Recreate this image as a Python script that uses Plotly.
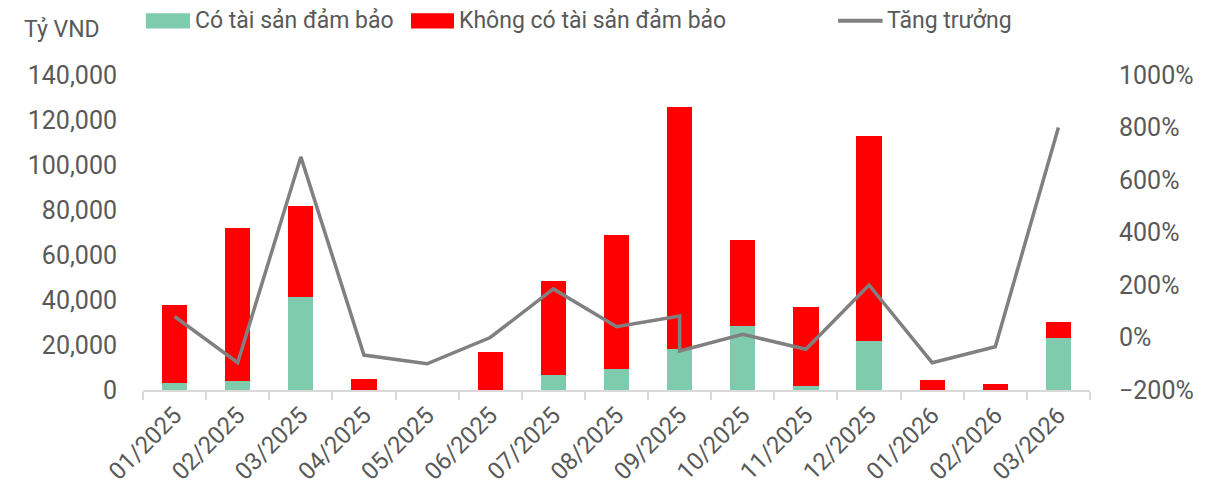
import plotly.graph_objects as go

months = ['01/2025', '02/2025', '03/2025', '04/2025', '05/2025', '06/2025', '07/2025',
          '08/2025', '09/2025', '10/2025', '11/2025', '12/2025', '01/2026', '02/2026', '03/2026']
secured = [3000, 3800, 41300, 0, 0, 0, 6700, 9200, 18400, 28500, 1800, 21700, 0, 0, 23300]
unsecured = [35000, 68200, 40700, 4900, 0, 16800, 41900, 59800, 107500, 38100, 35200, 91000, 4500, 2800, 6900]
# growth line has a vertical drop at 09/2025 in the source chart
growth_x = ['01/2025', '02/2025', '03/2025', '04/2025', '05/2025', '06/2025', '07/2025', '08/2025',
            '09/2025', '09/2025', '10/2025', '11/2025', '12/2025', '01/2026', '02/2026', '03/2026']
growth = [80, -96, 688, -67, -100, 0, 185, 41, 82, -51, 12, -45, 200, -96, -35, 800]

names = ['Có tài sản đảm bảo', 'Không có tài sản đảm bảo', 'Tăng trưởng']
txt = '#595959'
grid = '#d9d9d9'
fnt = 'Roboto'
c_sec, c_uns, c_line = '#7fcbad', '#ff0000', '#808080'

fig = go.Figure()
fig.add_trace(go.Bar(x=months, y=secured, name=names[0],
                     marker=dict(color=c_sec, line=dict(width=0))))
fig.add_trace(go.Bar(x=months, y=unsecured, name=names[1],
                     marker=dict(color=c_uns, line=dict(width=0))))
fig.add_trace(go.Scatter(x=growth_x, y=growth, name=names[2], mode='lines',
                         line=dict(color=c_line, width=3.5), yaxis='y2'))

# hand-drawn legend (wide swatches like the original)
ly = 1.172
shapes = [
    dict(type='rect', xref='paper', yref='paper', x0=0.003, x1=0.0496, y0=ly - 0.024, y1=ly + 0.024,
         fillcolor=c_sec, line=dict(width=0)),
    dict(type='rect', xref='paper', yref='paper', x0=0.283, x1=0.3284, y0=ly - 0.024, y1=ly + 0.024,
         fillcolor=c_uns, line=dict(width=0)),
    dict(type='line', xref='paper', yref='paper', x0=0.734, x1=0.781, y0=ly, y1=ly,
         line=dict(color=c_line, width=4)),
]
legend_x = [0.0525, 0.3316, 0.7835]
annotations = [dict(text=n, xref='paper', yref='paper', x=lx, y=ly + 0.002, xanchor='left',
                    yanchor='middle', showarrow=False, font=dict(size=23, color=txt))
               for n, lx in zip(names, legend_x)]
annotations.append(dict(text='Tỷ VND', xref='paper', yref='paper', x=-0.1278, y=1.145,
                        xanchor='left', yanchor='middle', showarrow=False,
                        font=dict(size=23, color=txt)))

fig.update_layout(
    width=1219, height=504,
    barmode='stack', bargap=0.6,
    showlegend=False,
    plot_bgcolor='white', paper_bgcolor='white',
    font=dict(family=fnt, size=23, color=txt),
    margin=dict(l=135, r=137, t=67, b=122),
    xaxis=dict(type='category', categoryorder='array', categoryarray=months, automargin=False,
               showline=True, linecolor=grid, linewidth=1.5,
               ticks='outside', tickson='boundaries', ticklen=8, tickcolor=grid, tickwidth=1.5,
               tickangle=-45, tickfont=dict(size=24, color=txt), showgrid=False),
    yaxis=dict(range=[0, 140000], dtick=20000, tickformat=',', showgrid=False, automargin=False,
               zeroline=False, ticklabelstandoff=25, tickfont=dict(size=25, color=txt)),
    yaxis2=dict(range=[-200, 1000], dtick=200, ticksuffix='%', overlaying='y', side='right',
                showgrid=False, zeroline=False, ticklabelstandoff=28, automargin=False,
                tickfont=dict(size=25, color=txt)),
    shapes=shapes,
    annotations=annotations,
)

fig.write_html("out.html")
